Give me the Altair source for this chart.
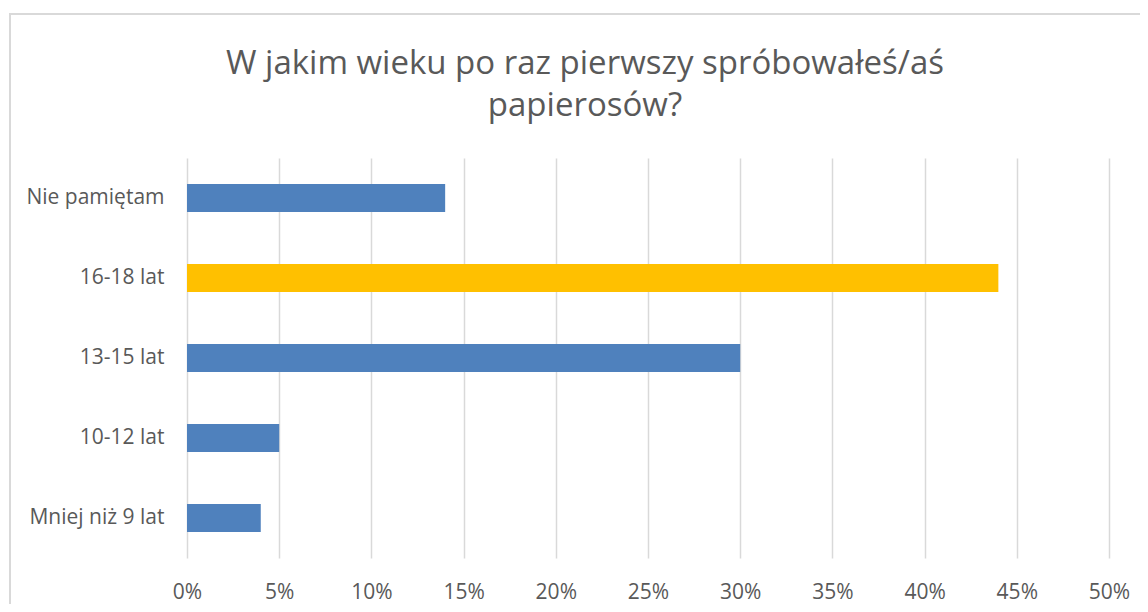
import altair as alt
import pandas as pd

categories = ["Nie pamiętam", "16-18 lat", "13-15 lat", "10-12 lat", "Mniej niż 9 lat"]
values = [0.14, 0.44, 0.30, 0.05, 0.04]
bar_colors = ["#4F81BD", "#FFC000", "#4F81BD", "#4F81BD", "#4F81BD"]
tick_values = [0, 0.05, 0.10, 0.15, 0.20, 0.25, 0.30, 0.35, 0.40, 0.45, 0.50]
title_lines = ["W jakim wieku po raz pierwszy spróbowałeś/aś", "papierosów?"]

df = pd.DataFrame({"kategoria": categories, "wartosc": values, "kolor": bar_colors})

FONT = "Open Sans"
TXT = "#595959"

bars = alt.Chart(df).mark_bar(cornerRadius=0).encode(
    y=alt.Y("kategoria:N", sort=categories,
            scale=alt.Scale(paddingInner=0.65, paddingOuter=0.325),
            axis=alt.Axis(title=None, domain=False, ticks=False, tickSize=0, grid=False,
                          labelFont=FONT, labelFontSize=21, labelColor=TXT,
                          labelPadding=23)),
    x=alt.X("wartosc:Q", scale=alt.Scale(domain=[0, 0.5], nice=False),
            axis=alt.Axis(title=None, domain=False, ticks=False, tickSize=0, grid=True,
                          values=tick_values, format=".0%", labelFlush=False,
                          gridColor="#D9D9D9", gridWidth=1.5,
                          labelFont=FONT, labelFontSize=21, labelColor=TXT,
                          labelPadding=23)),
    color=alt.Color("kolor:N", scale=None, legend=None),
)

border = alt.Chart(df).mark_rect(fill=None, stroke="#D9D9D9", strokeWidth=1.5).encode(
    x=alt.value(-177), x2=alt.value(1300), y=alt.value(-144), y2=alt.value(800)
)

chart = alt.layer(border, bars).properties(
    width=922,
    height=400,
    autosize=alt.AutoSizeParams(type="none"),
    padding={"left": 179, "top": 150, "right": 31, "bottom": 46},
    title=alt.TitleParams(
        text=title_lines, font=FONT, fontSize=33, fontWeight="normal",
        color=TXT, anchor="middle", dx=-63, lineHeight=42, offset=-110,
    ),
).configure(background="white").configure_view(stroke=None)

chart.save("out.html", embed_options={"renderer": "svg", "actions": False})
